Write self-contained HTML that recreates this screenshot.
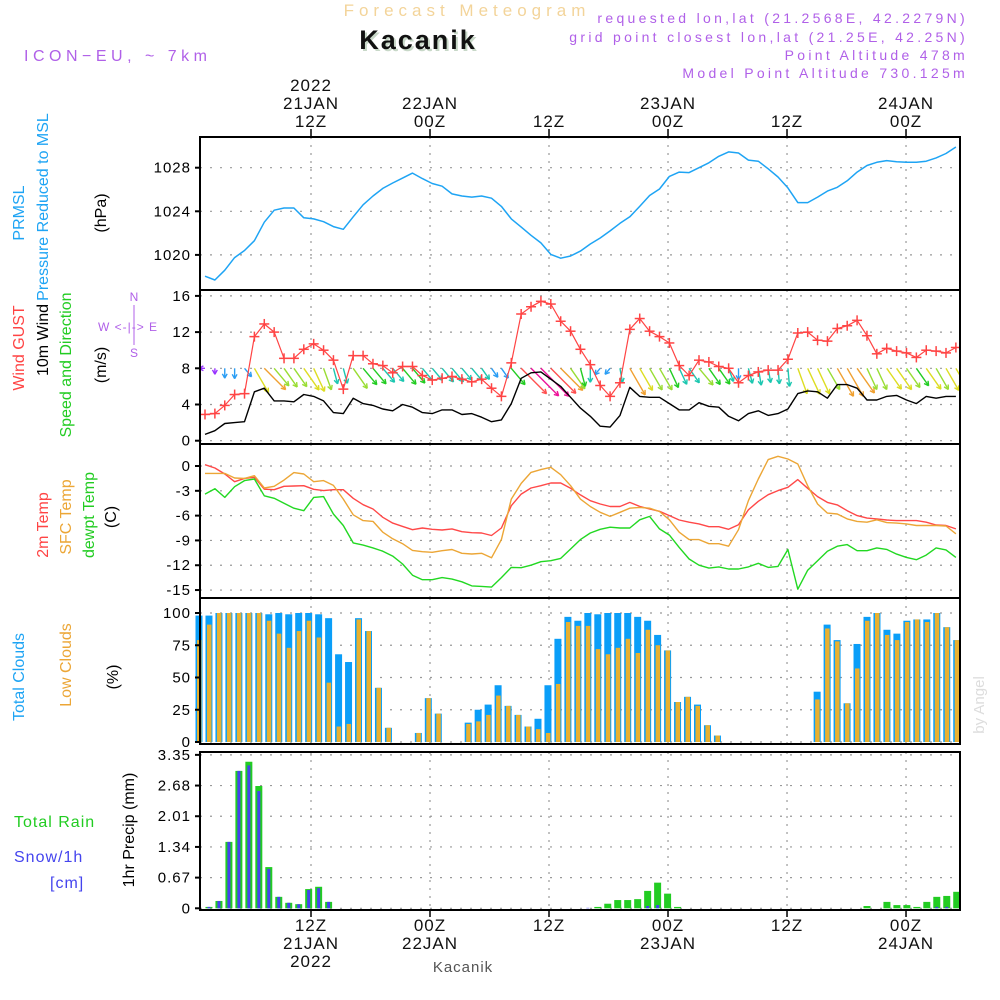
<!DOCTYPE html>
<html><head><meta charset="utf-8"><title>Forecast Meteogram Kacanik</title>
<style>
html,body{margin:0;padding:0;background:#fff;}
svg{display:block;}
text{font-family:"Liberation Sans",sans-serif;}
</style></head>
<body>
<svg id="chart" xmlns="http://www.w3.org/2000/svg" width="1000" height="1000" viewBox="0 0 1000 1000">
<defs><clipPath id="windclip"><rect x="200" y="290" width="760" height="154"/></clipPath></defs>
<rect x="0" y="0" width="1000" height="1000" fill="#fff"/>
<text x="467" y="16" text-anchor="middle" font-size="17" fill="#f3d49a" letter-spacing="5">Forecast Meteogram</text>
<text x="418" y="49" text-anchor="middle" font-size="27" font-weight="bold" fill="#c8d8c8" font-family="Liberation Serif, serif" letter-spacing="2" dx="2" dy="2">Kacanik</text>
<text x="418" y="49" text-anchor="middle" font-size="27" font-weight="bold" fill="#111" font-family="Liberation Serif, serif" letter-spacing="2">Kacanik</text>
<text x="24" y="61" font-size="16" fill="#b060e8" letter-spacing="4.5">ICON−EU, ~ 7km</text>
<g font-size="14" fill="#b060e8" text-anchor="end" letter-spacing="3.3">
<text x="968" y="23">requested lon,lat (21.2568E, 42.2279N)</text>
<text x="968" y="42">grid point closest lon,lat (21.25E, 42.25N)</text>
<text x="968" y="60">Point Altitude 478m</text>
<text x="968" y="78">Model Point Altitude 730.125m</text>
</g>
<g id="grid"></g>
<g id="marks"></g>
<g id="windmarks" clip-path="url(#windclip)"></g>
<g id="frames"></g>
<g id="labels"></g>
<text x="463" y="972" text-anchor="middle" font-size="15" fill="#555" font-family="Liberation Serif, serif" letter-spacing="1">Kacanik</text>
<text transform="translate(984,705) rotate(-90)" text-anchor="middle" font-size="15" fill="#ddd" font-family="Liberation Serif, serif">by Angel</text>
</svg>
<script>
// ---------- data ----------
const timeTicks = [12, 24, 36, 48, 60, 72];
const topTickLines = [["2022","21JAN","12Z"],["22JAN","00Z"],["12Z"],["23JAN","00Z"],["12Z"],["24JAN","00Z"]];
const bottomTickLines = [["12Z","21JAN","2022"],["00Z","22JAN"],["12Z"],["00Z","23JAN"],["12Z"],["00Z","24JAN"]];
const pressureTicks = [1020, 1024, 1028];
const windTicks = [0, 4, 8, 12, 16];
const tempTicks = [0, -3, -6, -9, -12, -15];
const cloudTicks = [0, 25, 50, 75, 100];
const precipTicks = [0, 0.67, 1.34, 2.01, 2.68, 3.35];
const precipTickLabels = ["0", "0.67", "1.34", "2.01", "2.68", "3.35"];

const pressure = [1018.05,1017.7,1018.6,1019.75,1020.4,1021.3,1023.0,1024.1,1024.3,1024.3,1023.4,1023.3,1023.05,1022.6,1022.35,1023.5,1024.6,1025.4,1026.1,1026.6,1027.05,1027.5,1027.0,1026.55,1026.3,1025.6,1025.4,1025.3,1025.4,1025.2,1024.45,1023.3,1022.55,1021.8,1021.1,1020.05,1019.7,1019.9,1020.35,1021.0,1021.55,1022.2,1022.9,1023.5,1024.45,1025.45,1026.05,1027.2,1027.6,1027.55,1028.0,1028.45,1029.05,1029.45,1029.35,1028.7,1028.6,1027.9,1027.15,1026.15,1024.8,1024.8,1025.3,1025.85,1026.2,1026.8,1027.6,1028.2,1028.5,1028.65,1028.55,1028.5,1028.5,1028.6,1028.9,1029.3,1029.9];

const gust = [2.9,3.0,3.9,5.1,5.2,11.5,12.9,12.0,9.1,9.1,10.1,10.7,10.0,8.9,5.7,9.4,9.4,8.5,8.3,7.5,8.2,8.2,7.2,6.7,6.9,7.1,6.8,6.5,6.8,5.8,4.9,8.6,14.0,14.8,15.4,15.1,13.2,12.1,10.1,8.4,6.1,4.9,6.4,12.3,13.5,12.1,11.5,10.8,8.3,7.2,8.9,8.7,8.2,8.0,6.4,7.2,7.6,7.8,7.8,9.0,11.9,12.0,11.1,11.0,12.4,12.7,13.3,11.6,9.6,10.2,9.9,9.7,9.2,10.0,9.9,9.7,10.3];

const wind10m = [0.7,1.1,1.9,2.0,2.1,5.4,5.8,4.4,4.4,4.3,5.1,4.9,4.4,3.1,3.0,4.7,4.1,3.9,3.5,3.3,4.0,3.7,3.1,3.0,3.4,3.4,2.9,3.0,2.6,2.1,2.3,4.1,6.9,7.5,7.6,6.8,6.0,4.8,3.6,2.7,1.6,1.5,2.8,5.9,4.9,4.8,4.8,4.1,3.4,3.4,4.2,3.8,3.7,2.7,2.2,3.0,3.3,2.8,3.0,3.5,5.2,5.5,5.4,4.7,6.2,6.2,5.8,4.5,4.5,4.9,5.0,4.5,4.1,4.9,4.7,4.9,4.9];

const windDir = [-90,0,0,0,40,30,45,40,35,35,35,25,20,15,15,35,40,40,40,40,40,40,40,40,40,40,40,40,35,35,35,40,45,45,45,45,45,35,15,0,-40,-40,10,30,30,30,30,25,25,35,40,35,35,20,0,15,10,10,5,5,20,25,25,30,30,30,35,25,25,35,35,35,35,35,30,30,30];

const temp2m = [0.16,-0.24,-0.97,-1.9,-1.5,-1.37,-2.8,-2.86,-2.46,-2.42,-2.38,-2.82,-2.98,-2.86,-2.86,-3.9,-4.68,-5.2,-6.2,-6.9,-7.3,-7.7,-7.5,-7.66,-7.74,-7.6,-7.94,-8.06,-8.1,-8.4,-7.5,-4.8,-3.4,-2.66,-2.38,-2.06,-2.06,-2.7,-3.5,-4.2,-4.6,-4.9,-4.9,-4.4,-4.88,-5.2,-5.48,-6.0,-6.53,-6.8,-7.0,-7.34,-7.34,-7.66,-7.1,-5.3,-4.27,-3.47,-2.98,-2.58,-1.65,-2.7,-3.7,-4.4,-4.7,-5.4,-6.0,-6.3,-6.4,-6.53,-6.6,-6.6,-6.6,-6.8,-7.14,-7.2,-7.6];

const tempSfc = [-0.89,-0.89,-0.89,-1.45,-1.5,-1.17,-2.66,-2.46,-1.7,-0.8,-0.97,-1.9,-1.77,-2.34,-4.0,-5.9,-6.6,-6.7,-8.0,-8.8,-9.4,-10.2,-10.36,-10.44,-10.24,-10.1,-10.56,-10.64,-10.56,-11.1,-8.9,-4.0,-2.1,-0.77,-0.44,-0.16,-1.05,-2.38,-4.0,-4.9,-5.6,-6.1,-5.6,-5.1,-5.0,-5.1,-5.5,-6.5,-8.0,-8.9,-8.9,-9.4,-9.4,-9.7,-7.7,-4.2,-1.57,0.77,1.17,0.85,0.24,-2.4,-4.6,-5.7,-5.8,-6.4,-6.7,-6.8,-6.5,-6.85,-6.9,-7.0,-7.2,-7.2,-7.2,-7.26,-8.2];

const dewpt = [-3.4,-2.74,-3.8,-2.5,-1.77,-1.57,-3.6,-3.9,-4.5,-5.1,-5.4,-3.8,-3.7,-5.8,-7.2,-9.3,-9.56,-9.9,-10.3,-10.9,-11.85,-13.2,-13.75,-13.75,-13.5,-13.67,-14.0,-14.5,-14.56,-14.64,-13.5,-12.26,-12.3,-12.0,-11.57,-11.45,-11.17,-10.04,-8.9,-8.1,-7.66,-7.4,-7.5,-7.5,-6.5,-6.1,-7.6,-8.35,-9.84,-11.25,-12.0,-12.34,-12.2,-12.46,-12.46,-12.2,-11.77,-12.26,-12.14,-10.1,-14.9,-12.6,-11.45,-10.3,-9.7,-9.5,-10.24,-10.24,-9.9,-10.08,-10.65,-11.05,-11.33,-10.77,-9.9,-10.14,-11.05];

const totalClouds = [98,98,100,100,100,100,100,99,100,99,100,100,99,96,68,62,96,86,42,11,0,0,7,34,22,0,0,15,25,29,44,28,21,12,18,44,80,97,94,100,99,100,100,100,97,94,83,71,31,35,29,13,5,0,0,0,0,0,0,0,0,0,39,91,79,30,76,97,100,87,84,94,95,95,100,89,79];
const lowClouds = [79,91,100,100,100,100,100,94,84,73,86,94,81,46,12,14,95,86,42,11,0,0,7,34,22,0,0,14,16,21,36,28,21,12,10,7,45,93,90,90,72,68,73,80,69,87,75,71,31,35,28,13,5,0,0,0,0,0,0,0,0,0,33,88,78,30,57,94,100,83,79,93,95,93,100,89,79];

const totalPrecip = [0,0.03,0.16,1.45,3.0,3.2,2.67,0.9,0.25,0.12,0.09,0.42,0.47,0.14,0,0,0,0,0,0,0,0,0,0,0,0,0,0,0,0,0,0,0,0,0,0,0,0,0,0,0.03,0.1,0.18,0.18,0.2,0.38,0.56,0.32,0.03,0,0,0,0,0,0,0,0,0,0,0,0,0,0,0,0,0,0,0.05,0,0.14,0.07,0.07,0.03,0.14,0.25,0.27,0.36];
const snowPrecip = [0,0.03,0.16,1.45,3.0,3.12,2.56,0.86,0.25,0.12,0.09,0.4,0.44,0.14,0,0,0,0,0,0,0,0,0,0,0,0,0,0,0,0,0,0,0,0,0,0,0,0,0,0.01,0,0,0,0,0,0.05,0.07,0,0,0,0,0,0,0,0,0,0,0,0,0,0,0,0,0,0,0,0,0,0,0,0,0,0,0,0.03,0.03,0];

// ---------- axes ----------
const L = 200, R = 960;
const xT = t => 311 + (t - 12) * 9.917;
const xLine = k => 205 + k * 9.88;
const xBar = i => 199 + i * 9.97;
const yP = v => 167.7 + (1028 - v) * 10.9;
const yW = v => 440.7 - v * 9.05;
const yT = v => 466 - v * 8.27;
const yC = v => 742 - v * 1.29;
const yR = v => 908.3 - v * 45.8;

const panels = [
  {name:'pressure-panel', top:137, bottom:290},
  {name:'wind-panel', top:290, bottom:444},
  {name:'temperature-panel', top:444, bottom:598},
  {name:'clouds-panel', top:598, bottom:744},
  {name:'precip-panel', top:752, bottom:910}
];

const NS = 'http://www.w3.org/2000/svg';
function mk(tag, attrs, parent) {
  const e = document.createElementNS(NS, tag);
  for (const k in attrs) e.setAttribute(k, attrs[k]);
  parent.appendChild(e);
  return e;
}
const grid = document.getElementById('grid');
const marks = document.getElementById('marks');
const windmarks = document.getElementById('windmarks');
const frames = document.getElementById('frames');
const labels = document.getElementById('labels');

panels.forEach(p => {
  timeTicks.forEach(t => {
    const ln = mk('line', {x1:xT(t), x2:xT(t), y1:p.top, y2:p.bottom, stroke:'#999', 'stroke-width':1.2, 'stroke-dasharray':'2,6'}, grid);
    
    
  });
});
function hGrid(vals, yf, fmt, panelName) {
  vals.forEach((v, i) => {
    const y = yf(v);
    const ln = mk('line', {x1:L, x2:R, y1:y, y2:y, stroke:'#999', 'stroke-width':1.2, 'stroke-dasharray':'2,8'}, grid);
    
    
    const tk = mk('line', {x1:L-5, x2:L, y1:y, y2:y, stroke:'#000', 'stroke-width':2}, frames);
    
    
    const tx = mk('text', {x:L-9, y:y+5, 'text-anchor':'end', 'font-size':15, fill:'#000', 'letter-spacing':1}, labels);
    tx.textContent = fmt(v, i);
    
    
  });
}
hGrid(pressureTicks, yP, v => String(v), 'pressure');
hGrid(windTicks, yW, v => String(v), 'wind');
hGrid(tempTicks, yT, v => String(v), 'temperature');
hGrid(cloudTicks, yC, v => String(v), 'clouds');
hGrid(precipTicks, yR, (v, i) => precipTickLabels[i], 'precip');

function poly(arr, yf, color, name, w, parent) {
  const pts = arr.map((v, k) => xLine(k).toFixed(1) + ',' + yf(v).toFixed(1)).join(' ');
  const p = mk('polyline', {points:pts, fill:'none', stroke:color, 'stroke-width':w || 1.4, 'stroke-linejoin':'round'}, parent || marks);
  
  
}
poly(pressure, yP, '#1ea4f4', 'pressure-line', 1.5);

totalClouds.forEach((v, i) => {
  const r = mk('rect', {x:xBar(i)-3.5, y:yC(v), width:7, height:742-yC(v), fill:'#0a9ef8'}, marks);
  
  
});
lowClouds.forEach((v, i) => {
  const r = mk('rect', {x:xBar(i)-2, y:yC(v), width:4.5, height:742-yC(v), fill:'#e8b030'}, marks);
  
  
});
totalPrecip.forEach((v, i) => {
  if (v <= 0) return;
  const r = mk('rect', {x:xBar(i)-3.5, y:yR(v), width:7, height:908.3-yR(v), fill:'#22cc22'}, marks);
  
  
});
snowPrecip.forEach((v, i) => {
  if (v <= 0) return;
  const r = mk('rect', {x:xBar(i)-1.5, y:yR(v), width:3, height:908.3-yR(v), fill:'#4444ee'}, marks);
  
  
});

poly(temp2m, yT, '#ff4848', 'temp-2m-line');
poly(tempSfc, yT, '#eca636', 'temp-sfc-line');
poly(dewpt, yT, '#22d822', 'dewpoint-line');

function windColor(s) {
  if (s < 1.2) return '#9933ff';
  if (s < 2.6) return '#2a9df4';
  if (s < 3.6) return '#1cc7b0';
  if (s < 4.2) return '#22cc22';
  if (s < 4.9) return '#99dd33';
  if (s < 5.6) return '#dddd22';
  if (s < 6.4) return '#f0a030';
  if (s < 7.2) return '#ff5050';
  return '#ee1199';
}
wind10m.forEach((s, k) => {
  const a = windDir[k] * Math.PI / 180;
  const len = Math.max(6, s * 5.2);
  const x0 = xLine(k), y0 = yW(8);
  const x1 = x0 + Math.sin(a) * len, y1 = y0 + Math.cos(a) * len;
  const c = windColor(s);
  const g = mk('g', {stroke:c, 'stroke-width':1.4, fill:'none'}, windmarks);
  
  
  mk('line', {x1:x0, y1:y0, x2:x1, y2:y1}, g);
  const h = 5, ang = Math.atan2(y1 - y0, x1 - x0);
  [0.5, -0.5].forEach(d => {
    mk('line', {x1:x1, y1:y1, x2:x1 - h*Math.cos(ang + d), y2:y1 - h*Math.sin(ang + d)}, g);
  });
});
poly(wind10m, yW, '#000', 'wind-10m-line', 1.4, windmarks);
poly(gust, yW, '#ff4444', 'wind-gust-line', 1.2, windmarks);
gust.forEach((v, k) => {
  const x = xLine(k), y = yW(v);
  const g = mk('g', {stroke:'#ff4444', 'stroke-width':1.5}, windmarks);
  
  
  mk('line', {x1:x-5, x2:x+5, y1:y, y2:y}, g);
  mk('line', {x1:x, x2:x, y1:y-5, y2:y+5}, g);
});

panels.forEach(p => {
  const r = mk('rect', {x:L, y:p.top, width:R-L, height:p.bottom-p.top, fill:'none', stroke:'#000', 'stroke-width':2}, frames);
  
  
});

timeTicks.forEach((t, i) => {
  const x = xT(t);
  const tk = mk('line', {x1:x, x2:x, y1:129, y2:137, stroke:'#000', 'stroke-width':1.5}, frames);
  
  
  const tl = topTickLines[i];
  tl.forEach((s, j) => {
    const tx = mk('text', {x:x, y:127 - (tl.length - 1 - j) * 18, 'text-anchor':'middle', 'font-size':17, fill:'#111', 'letter-spacing':1}, labels);
    tx.textContent = s;
    
    
  });
  const bk = mk('line', {x1:x, x2:x, y1:910, y2:917, stroke:'#000', 'stroke-width':1.5}, frames);
  
  
  bottomTickLines[i].forEach((s, j) => {
    const tx = mk('text', {x:x, y:931 + j * 18, 'text-anchor':'middle', 'font-size':17, fill:'#111', 'letter-spacing':1}, labels);
    tx.textContent = s;
    
    
  });
});

function vlabel(txt, x, y, color, name) {
  const t = mk('text', {transform:'translate(' + x + ',' + y + ') rotate(-90)', 'text-anchor':'middle', 'font-size':16, fill:color}, labels);
  t.textContent = txt;
  
  
}
function hlabel(txt, x, y, color, name, anchor) {
  const t = mk('text', {x:x, y:y, 'text-anchor':anchor || 'start', 'font-size':16, fill:color, 'letter-spacing':1}, labels);
  t.textContent = txt;
  
  
}
vlabel('PRMSL', 24, 213, '#1ea4f4', 'prmsl-axis-title');
vlabel('Pressure Reduced to MSL', 48, 207, '#1ea4f4', 'pressure-axis-title');
vlabel('(hPa)', 106, 213, '#000', 'pressure-unit');
vlabel('Wind GUST', 24, 348, '#ff4444', 'gust-axis-title');
vlabel('10m Wind', 48, 340, '#000', 'wind-axis-title');
vlabel('Speed and Direction', 71, 365, '#22cc22', 'wind-direction-axis-title');
vlabel('(m/s)', 106, 365, '#000', 'wind-unit');
const cN = mk('text', {x:134, y:301, 'text-anchor':'middle', 'font-size':12, fill:'#b060e8'}, labels);
cN.textContent = 'N';


const cS = mk('text', {x:134, y:357, 'text-anchor':'middle', 'font-size':12, fill:'#b060e8'}, labels);
cS.textContent = 'S';


const cV = mk('line', {x1:134, x2:134, y1:305, y2:345, stroke:'#b060e8', 'stroke-width':1}, labels);


const cmp2 = mk('text', {x:128, y:331, 'text-anchor':'middle', 'font-size':12, fill:'#b060e8', 'letter-spacing':1}, labels);
cmp2.textContent = 'W  <-|->  E';


vlabel('2m Temp', 48, 525, '#ff4444', 'temp-2m-axis-title');
vlabel('SFC Temp', 71, 517, '#eca636', 'temp-sfc-axis-title');
vlabel('dewpt Temp', 94, 515, '#22cc22', 'dewpoint-axis-title');
vlabel('(C)', 116, 517, '#000', 'temp-unit');
vlabel('Total Clouds', 24, 677, '#1ea4f4', 'total-clouds-axis-title');
vlabel('Low Clouds', 71, 665, '#eca636', 'low-clouds-axis-title');
vlabel('(%)', 118, 677, '#000', 'clouds-unit');
hlabel('Total  Rain', 14, 827, '#22cc22', 'rain-axis-title');
hlabel('Snow/1h', 14, 862, '#4444ee', 'snow-axis-title');
hlabel('[cm]', 50, 888, '#4444ee', 'snow-unit');
vlabel('1hr Precip (mm)', 134, 830, '#000', 'precip-axis-title');
</script>
</body></html>
